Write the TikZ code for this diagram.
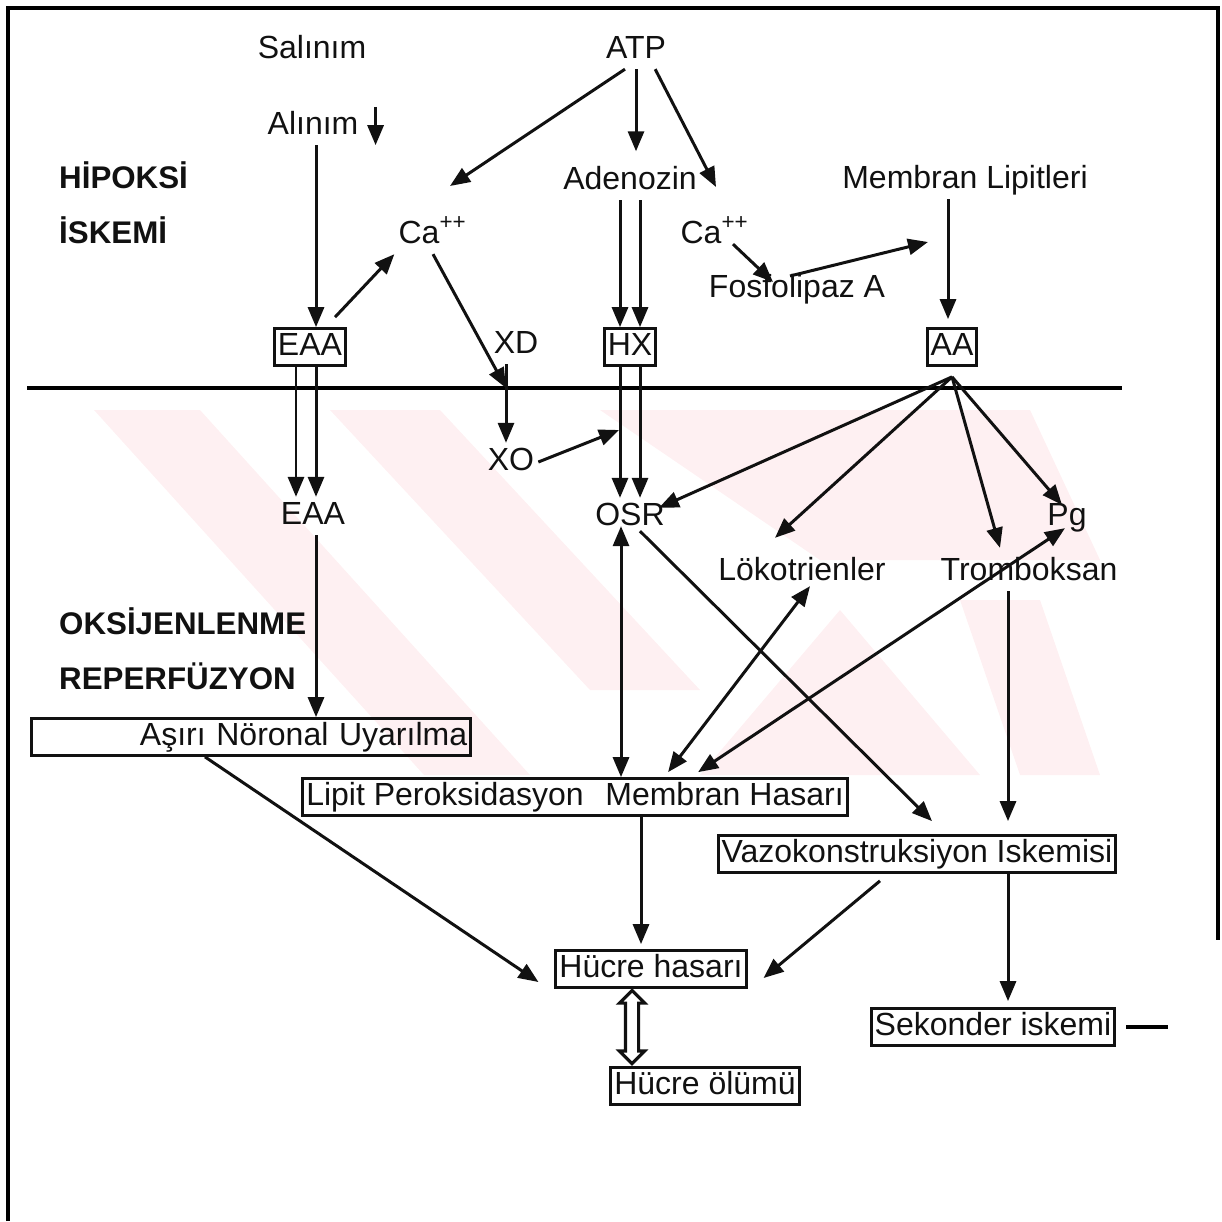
\documentclass[tikz,border=0pt]{standalone}
\usepackage{fontspec}
\setmainfont{Liberation Sans}
\usetikzlibrary{arrows.meta,shapes.arrows}
\definecolor{ink}{HTML}{111111}
\definecolor{wmark}{HTML}{FEF0F2}

\begin{document}
\begin{tikzpicture}[x=0.01cm,y=-0.01cm,font=\fontsize{9.1}{11}\selectfont,text=ink,>=Triangle,
  arr/.style={-{Triangle[length=2mm,width=1.6mm]},line width=0.85pt,draw=ink},
  darr/.style={{Triangle[length=2mm,width=1.6mm]}-{Triangle[length=2mm,width=1.6mm]},line width=0.85pt,draw=ink},
  lbl/.style={inner xsep=1pt,inner ysep=1pt,text height=6.6pt,text depth=1.9pt},
  box/.style={lbl,draw=ink,line width=0.8pt},
  hdr/.style={lbl,anchor=west,font=\fontsize{8.9}{11}\selectfont\bfseries},
  dblarrow/.style={double arrow,draw=ink,fill=white,line width=0.9pt,rotate=90,
    minimum height=0.73cm,inner sep=0.05cm,double arrow head extend=0.06cm,
    double arrow head indent=0cm}]
  \useasboundingbox (0,0) rectangle (1222,1221);
  % watermark
  \fill[wmark] (94,410) -- (200,410) -- (530,775) -- (424,775) -- cycle;
  \fill[wmark] (330,410) -- (440,410) -- (700,690) -- (590,690) -- cycle;
  \fill[wmark] (600,410) -- (1030,410) -- (1100,560) -- (820,560) -- cycle;
  \fill[wmark] (700,775) -- (840,610) -- (980,775) -- cycle;
  \fill[wmark] (960,600) -- (1040,600) -- (1100,775) -- (1020,775) -- cycle;
  % frame and membrane line
  \draw[line width=1.2pt] (8,1221) -- (8,8) -- (1218,8) -- (1218,940);
  \draw[line width=1pt] (27,388) -- (1122,388);

  \node[lbl] (salinim) at (312,50) {Salınım};
  \node[lbl] (atp) at (636,50) {ATP};
  \node[lbl] (alinim) at (313,126) {Alınım};
  \node[hdr] (hipoksi) at (55,180) {HİPOKSİ};
  \node[hdr] (iskemi) at (55,235) {İSKEMİ};
  \node[lbl] (ca1) at (433,235) {Ca\textsuperscript{++}};
  \node[lbl] (adenozin) at (630,181) {Adenozin};
  \node[lbl] (ca2) at (715,235) {Ca\textsuperscript{++}};
  \node[lbl] (fosfo) at (797,289) {Fosfolipaz A};
  \node[lbl] (memlip) at (965,180) {Membran Lipitleri};
  \node[box] (eaa1) at (310,347) {EAA};
  \node[lbl] (xd) at (516,345) {XD};
  \node[box] (hx) at (630,347) {HX};
  \node[box] (aa) at (952,347) {AA};
  \node[lbl] (xo) at (511,462) {XO};
  \node[lbl] (eaa2) at (313,516) {EAA};
  \node[lbl] (osr) at (630,517) {OSR};
  \node[lbl] (pg) at (1067,517) {Pg};
  \node[lbl] (lokot) at (802,572) {Lökotrienler};
  \node[lbl] (tromb) at (1029,572) {Tromboksan};
  \node[hdr] (oksi) at (55,626) {OKSİJENLENME};
  \node[hdr] (reperf) at (55,681) {REPERFÜZYON};
  \node[box,text width=4.32cm,align=right] (asiri) at (251,737) {Aşırı Nöronal Uyarılma};
  \node[box] (lipit) at (575,797) {Lipit Peroksidasyon\hspace{0.4em} Membran Hasarı};
  \node[box] (vazo) at (917,854) {Vazokonstruksiyon İskemisi};
  \node[box] (hasar) at (651,969) {Hücre hasarı};
  \node[box] (sekonder) at (993,1027) {Sekonder iskemi};
  \node[box] (olum) at (705,1086) {Hücre ölümü};
  \node[dblarrow] (hasolum) at (632,1027) {};
  \coordinate (adz-r) at (716,187);
  \coordinate (mem-xd) at (506,388);
  \coordinate (hx-side) at (619,430);
  \coordinate (plase) at (928,242);
  \coordinate (aa-out) at ([yshift=-0.1cm]aa.south);
  \draw[line width=0.9pt] ([xshift=0.1cm]sekonder.east) -- ++(42,0);

  % hipoksi / iskemi
  \draw[arr] (atp.-120) -- (450,186);
  \draw[arr,shorten >=3pt] (atp.south) -- (atp.south |- adenozin.north);
  \draw[arr] (atp.-45) -- (adz-r);
  \draw[arr] ([xshift=0.13cm]alinim.north east) -- ([xshift=0.13cm]alinim.south east);
  \draw[arr] ([xshift=0.03cm]alinim.south) -- ([xshift=0.03cm]alinim.south |- eaa1.north);
  \draw[arr] ([xshift=0.25cm,yshift=0.1cm]eaa1.north) -- (ca1.south west);
  \draw[arr] (ca1.south) -- (mem-xd);
  \draw[arr] (xd.south -| mem-xd) -- (xo.north -| mem-xd);
  \draw[arr] (xo.east) -- (hx-side);
  \foreach \dx in {-0.1,0.1}{
    \draw[arr] ([xshift=\dx cm]adenozin.south) -- ([xshift=\dx cm]hx.north);
    \draw[arr] ([xshift=\dx cm]hx.south) -- ([xshift=\dx cm]osr.north);
  }
  \foreach \dx in {-0.14,0.06}
    \draw[arr] ([xshift=\dx cm]eaa1.south) -- ([xshift=\dx cm]eaa1.south |- eaa2.north);
  \draw[arr] ([xshift=0.18cm,yshift=0.1cm]ca2.south) -- ([xshift=-0.24cm,yshift=0.07cm]fosfo.center);
  \draw[arr] ([xshift=-0.07cm,yshift=0.13cm]fosfo.center) -- (plase);
  \draw[arr] ([xshift=-0.04cm]aa.north |- memlip.south) -- ([xshift=-0.04cm,yshift=0.08cm]aa.north);
  % reperfuzyon
  \draw[arr] (aa-out) -- ([xshift=-0.1cm,yshift=-0.1cm]osr.north east);
  \draw[arr] (aa-out) -- ([xshift=-0.27cm,yshift=0.15cm]lokot.north);
  \draw[arr] (aa-out) -- ([xshift=-0.29cm,yshift=0.05cm]tromb.north);
  \draw[arr] (aa-out) -- ([xshift=-0.05cm,yshift=-0.07cm]pg.north);
  \draw[arr] ([xshift=0.03cm]eaa2.south) -- ([xshift=0.03cm]eaa2.south |- asiri.north);
  \draw[darr] ([xshift=-0.09cm,yshift=0.1cm]osr.south) -- ([xshift=-0.09cm]osr.south |- lipit.north);
  \draw[arr] ([xshift=0.1cm,yshift=0.05cm]osr.south) -- ([xshift=0.15cm,yshift=0.13cm]vazo.north);
  \draw[darr] ([xshift=0.08cm,yshift=0.05cm]lokot.south) -- ([xshift=0.93cm,yshift=0.05cm]lipit.north);
  \draw[darr] ([xshift=-0.02cm,yshift=0.08cm]pg.south) -- ([xshift=1.23cm,yshift=0.05cm]lipit.north);
  \draw[arr,shorten >=0.13cm] ([xshift=-0.21cm]tromb.south) -- ([xshift=-0.21cm]tromb.south |- vazo.north);
  \draw[arr] ([xshift=-0.46cm]asiri.south) -- ([xshift=-0.16cm,yshift=-0.13cm]hasar.west);
  \draw[arr,shorten >=0.05cm] ([xshift=-0.1cm]hasar.north |- lipit.south) -- ([xshift=-0.1cm]hasar.north);
  \draw[arr] ([xshift=-0.37cm,yshift=-0.07cm]vazo.south) -- ([xshift=0.16cm,yshift=-0.09cm]hasar.east);
  \draw[arr,shorten >=0.06cm] ([xshift=0.15cm]sekonder.north |- vazo.south) -- ([xshift=0.15cm]sekonder.north);
\end{tikzpicture}
\end{document}
